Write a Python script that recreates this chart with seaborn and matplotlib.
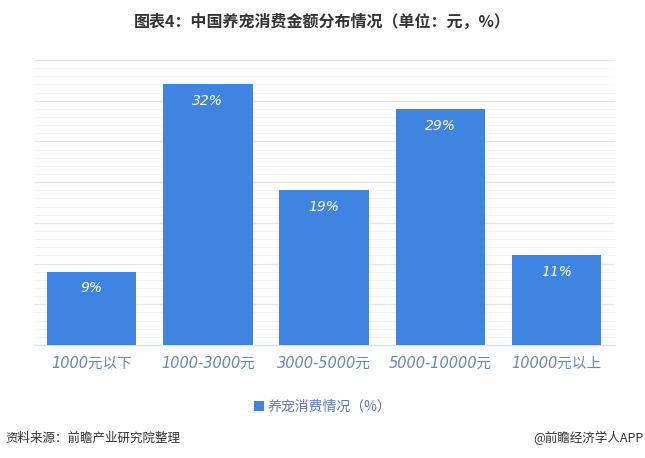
import matplotlib
matplotlib.use("Agg")
import matplotlib.pyplot as plt
from matplotlib.ticker import MultipleLocator
import seaborn as sns
import pandas as pd

categories = ["1000元以下", "1000-3000元", "3000-5000元", "5000-10000元", "10000元以上"]
values = [9, 32, 19, 29, 11]
value_labels = ["9%", "32%", "19%", "29%", "11%"]
series_name = "养宠消费情况（%）"
title = "图表4：中国养宠消费金额分布情况（单位：元，%）"
source = "资料来源：前瞻产业研究院整理"
brand = "@前瞻经济学人APP"

sns.set_theme(style="white")
plt.rcParams['font.family'] = ['DejaVu Sans', 'Noto Sans CJK SC']
cjk = ['Noto Sans CJK SC', 'DejaVu Sans']

df = pd.DataFrame({"cat": categories, "val": values})

fig = plt.figure(figsize=(6.45, 4.58), dpi=100)
ax = fig.add_axes([0.052, 0.2467, 0.901, 0.6223])

bar_color = "#3f84e0"
sns.barplot(data=df, x="cat", y="val", color=bar_color, saturation=1,
            width=0.77, ax=ax, label=series_name, zorder=3, linewidth=0)

ax.set_ylim(0, 35)
ax.yaxis.set_major_locator(MultipleLocator(5))
ax.yaxis.set_minor_locator(MultipleLocator(1))
ax.grid(axis="y", which="major", color="#e2e4e8", linewidth=0.9, zorder=0)
ax.grid(axis="y", which="minor", color="#f3f4f6", linewidth=0.7, zorder=0)
ax.set_axisbelow(True)
ax.tick_params(axis="y", which="both", left=False, labelleft=False)
ax.tick_params(axis="x", length=0, pad=8)
for s in ["top", "right", "left"]:
    ax.spines[s].set_visible(False)
ax.spines["bottom"].set_color("#dfe3e8")
ax.spines["bottom"].set_linewidth(1.0)
ax.set_xlabel("")
ax.set_ylabel("")
ax.set_xlim(-0.5, len(categories) - 0.5)

for lbl in ax.get_xticklabels():
    lbl.set_fontstyle("italic")
    lbl.set_color("#6a88b2")
    lbl.set_fontsize(10.5)
    lbl.set_family(cjk[::-1])

for p, t in zip(ax.patches, value_labels):
    ax.annotate(t, (p.get_x() + p.get_width() / 2, p.get_height()),
                xytext=(0, -12), textcoords="offset points",
                ha="center", va="center", color="white", fontsize=10,
                fontstyle="italic", zorder=5)

leg = ax.legend(loc="center", bbox_to_anchor=(0.5, 1 - 407 / 458), bbox_transform=fig.transFigure,
                frameon=False, handlelength=0.75, handleheight=0.75, handletextpad=0.25,
                prop={"family": cjk, "size": 10})
for t in leg.get_texts():
    t.set_color("#5a7db0")

fig.text(0.5, 1 - 22 / 458, title, ha="center", va="center", fontsize=11.5,
         fontweight="bold", color="#333333", family=cjk)
fig.text(0.008, 1 - 438 / 458, source, ha="left", va="center", fontsize=9,
         color="#333333", family=cjk, fontstyle="italic")
fig.text(0.997, 1 - 438 / 458, brand, ha="right", va="center", fontsize=9,
         color="#333333", family=cjk)

fig.savefig("out.png", dpi=100)
